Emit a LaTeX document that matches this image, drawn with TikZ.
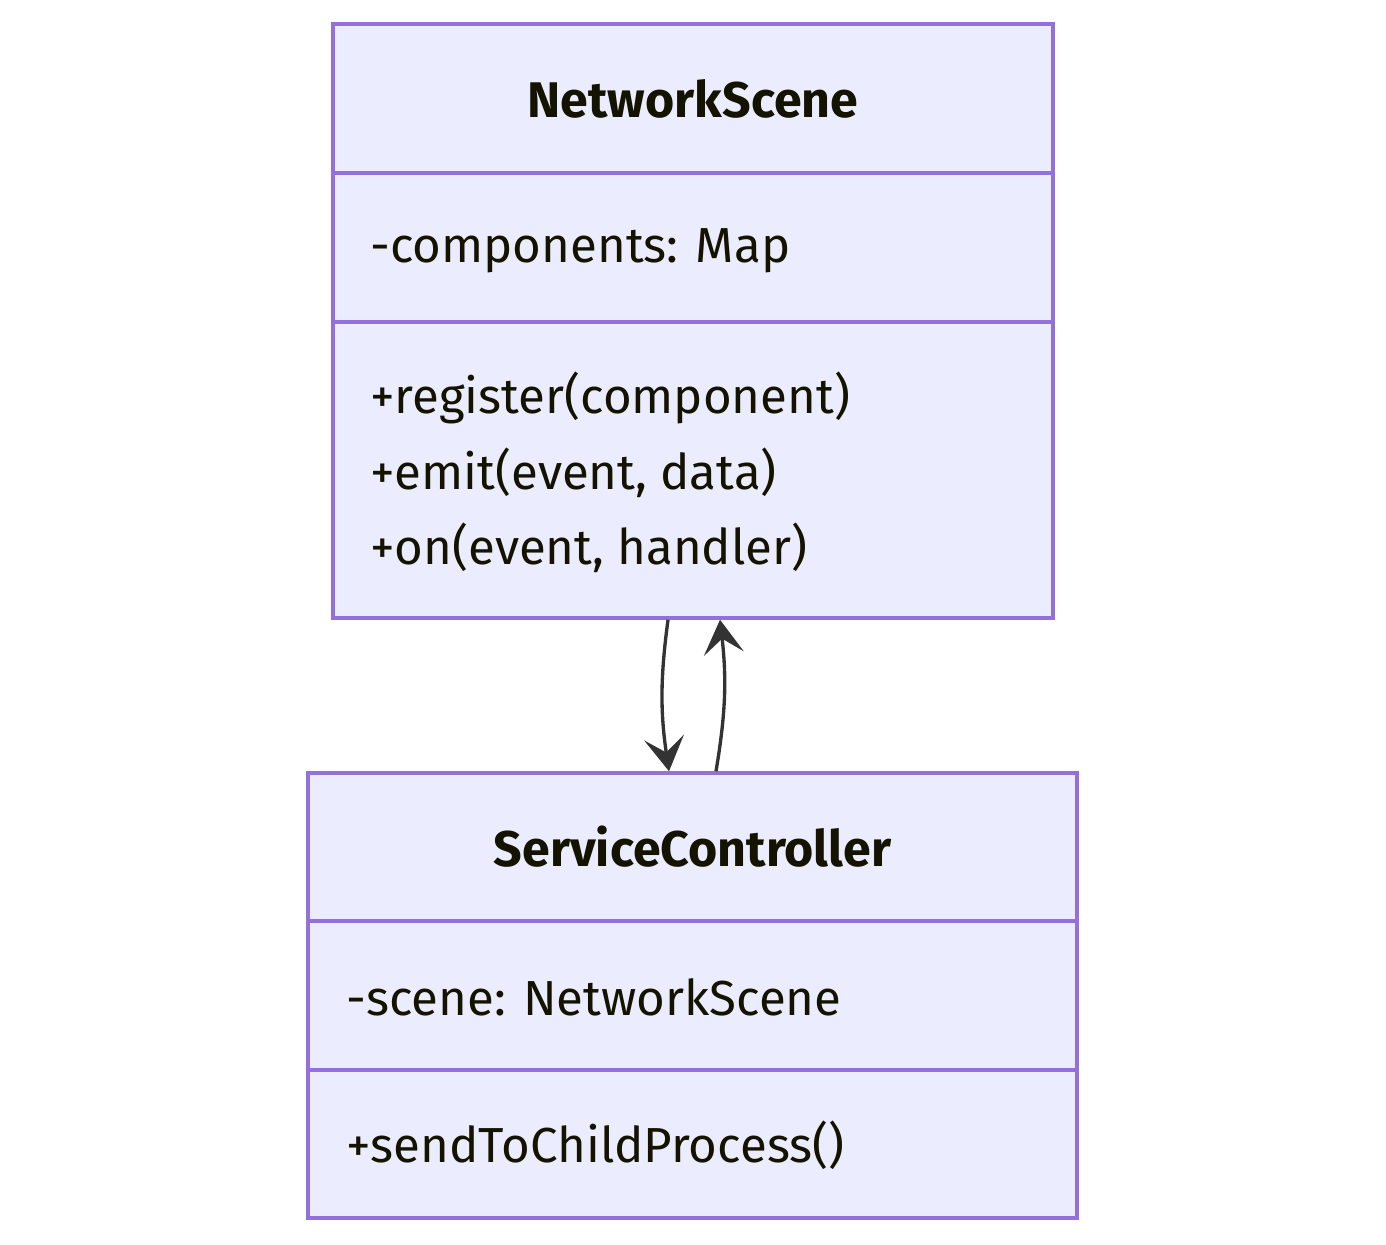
\documentclass[tikz,border=0pt]{standalone}
\usepackage{fontspec}
\setmainfont{Fira Sans}
\usetikzlibrary{arrows.meta,positioning,calc}

\definecolor{boxfill}{HTML}{ECECFF}
\definecolor{boxline}{HTML}{9370DB}
\definecolor{linkline}{HTML}{333333}
\definecolor{labeltext}{HTML}{131300}

\tikzset{
  classbox/.style={draw=boxline, fill=boxfill, line width=2pt, rectangle, inner sep=0pt},
  divider/.style={draw=boxline, line width=2pt},
  title/.style={font=\fontsize{28.5}{34}\selectfont\bfseries, text=labeltext},
  member/.style={font=\fontsize{28}{34}\selectfont, text=labeltext, anchor=west, inner sep=0pt},
  link/.style={draw=linkline, line width=1.9pt, -{Stealth[length=0.68cm, width=0.8cm, inset=0.3cm]}}
}

\begin{document}
\begin{tikzpicture}
          \useasboundingbox (0,0) rectangle (27.72,-24.88);

          % NetworkScene
          \node[classbox, minimum width=14.4cm, minimum height=11.88cm] (ns) at (13.86,-6.42) {};
          \draw[divider] (ns.west |- 0,-3.46) -- (ns.east |- 0,-3.46);
          \draw[divider] (ns.west |- 0,-6.44) -- (ns.east |- 0,-6.44);
          \node[title] (nsname) at (13.86,-1.97) {NetworkScene};
          \node[member] (nsattr) at (7.40,-5.02) {-components: Map};
          \node[member] (nsreg) at (7.40,-7.96) {+register(component)};
          \node[member] (nsemit) at (7.40,-9.46) {+emit(event, data)};
          \node[member] (nson) at (7.40,-10.96) {+on(event, handler)};

          % ServiceController
          \node[classbox, minimum width=15.38cm, minimum height=8.9cm] (sc) at (13.85,-19.91) {};
          \draw[divider] (sc.west |- 0,-18.42) -- (sc.east |- 0,-18.42);
          \draw[divider] (sc.west |- 0,-21.40) -- (sc.east |- 0,-21.40);
          \node[title] (scname) at (13.85,-16.94) {ServiceController};
          \node[member] (scattr) at (6.92,-19.94) {-scene: NetworkScene};
          \node[member] (scsend) at (6.92,-22.90) {+sendToChildProcess()};

          \coordinate (nsout) at ([xshift=-0.5cm]ns.south);
          \coordinate (scin) at ([xshift=-0.47cm]sc.north);
          \coordinate (scout) at ([xshift=0.47cm]sc.north);
          \coordinate (nsin) at ([xshift=0.54cm]ns.south);

          \draw[link] (nsout) to[bend right=8] (scin);
          \draw[link] (scout) to[bend right=8] (nsin);

      \end{tikzpicture}
\end{document}
